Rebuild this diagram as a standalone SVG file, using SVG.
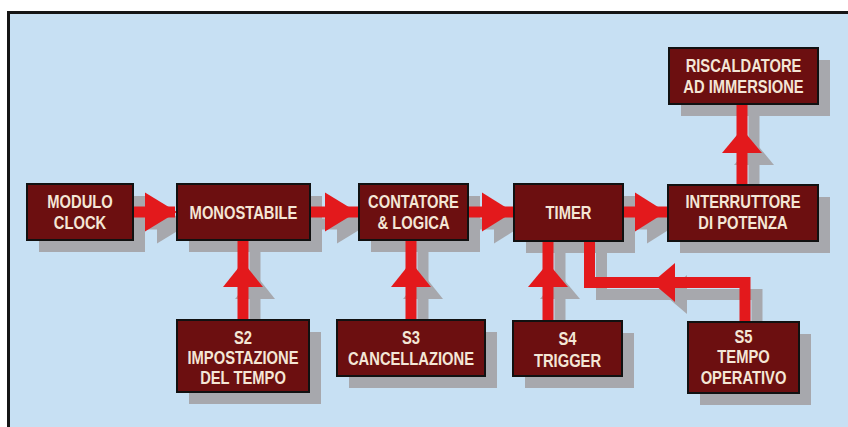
<svg xmlns="http://www.w3.org/2000/svg" width="848" height="427" viewBox="0 0 848 427">
<style>
.box{fill:#6c0f10;stroke:#111;stroke-width:2}
.sh{fill:#a7a8ad}
.shl{fill:none;stroke:#a7a8ad;stroke-width:11}
.t{font-family:"Liberation Sans",Arial,sans-serif;font-weight:bold;font-size:18px;fill:#f4e6d6;text-anchor:middle}
.w{fill:none;stroke:#e3191c;stroke-width:11}
.h{fill:#e3191c}
</style>
<rect x="0" y="0" width="848" height="427" fill="#ffffff"/>
<rect x="8.5" y="12.5" width="845" height="420" fill="#c7e0f3" stroke="#151515" stroke-width="3"/>

<g id="shadows" transform="translate(12,12)">
<rect class="sh" x="27" y="184" width="106" height="56"/>
<rect class="sh" x="177" y="184" width="133" height="56"/>
<rect class="sh" x="359" y="184" width="109" height="56"/>
<rect class="sh" x="514" y="184" width="109" height="57"/>
<rect class="sh" x="668" y="185" width="150" height="56"/>
<rect class="sh" x="669" y="48" width="149" height="56"/>
<rect class="sh" x="177" y="320" width="132" height="72"/>
<rect class="sh" x="337" y="320" width="148" height="56"/>
<rect class="sh" x="513" y="321" width="109" height="55"/>
<rect class="sh" x="688" y="322" width="111" height="71"/>
<path class="shl" d="M133 212H177M310 212H359M468 212H514M623 212H668M243 320V240M411 320V240M548 321V241M742 185V104M745 322V282.5H589.5V241"/>
<polygon class="sh" points="145,192.5 177,212 145,231.5"/>
<polygon class="sh" points="325,192.5 357,212 325,231.5"/>
<polygon class="sh" points="482,192.5 513,212 482,231.5"/>
<polygon class="sh" points="635,192.5 666,212 635,231.5"/>
<polygon class="sh" points="223,287 243,262 263,287"/>
<polygon class="sh" points="391,287 411,262 431,287"/>
<polygon class="sh" points="528,287 548,263 568,287"/>
<polygon class="sh" points="722,153 742,129 762,153"/>
<polygon class="sh" points="675,263 652,282.5 675,302"/>
</g>

<g id="connectors">
<path class="w" d="M133 212H175"/>
<polygon class="h" points="145,192.5 177,212 145,231.5"/>
<path class="w" d="M310 212H359"/>
<polygon class="h" points="325,192.5 357,212 325,231.5"/>
<path class="w" d="M468 212H514"/>
<polygon class="h" points="482,192.5 513,212 482,231.5"/>
<path class="w" d="M623 212H668"/>
<polygon class="h" points="635,192.5 666,212 635,231.5"/>
<path class="w" d="M243 320V240"/>
<polygon class="h" points="223,287 243,262 263,287"/>
<path class="w" d="M411 320V240"/>
<polygon class="h" points="391,287 411,262 431,287"/>
<path class="w" d="M548 321V241"/>
<polygon class="h" points="528,287 548,263 568,287"/>
<path class="w" d="M742 185V104"/>
<polygon class="h" points="722,153 742,129 762,153"/>
<path class="w" d="M745 322V282.5H589.5V241"/>
<polygon class="h" points="675,263 652,282.5 675,302"/>
</g>

<g id="modulo-clock">
<rect class="box" x="27" y="184" width="106" height="56"/>
<text class="t" transform="translate(80 208) scale(0.82 1)">MODULO</text>
<text class="t" transform="translate(80 229) scale(0.82 1)">CLOCK</text>
</g>
<g id="monostabile">
<rect class="box" x="177" y="184" width="133" height="56"/>
<text class="t" transform="translate(243.5 219) scale(0.82 1)">MONOSTABILE</text>
</g>
<g id="contatore-logica">
<rect class="box" x="359" y="184" width="109" height="56"/>
<text class="t" transform="translate(413.5 208) scale(0.82 1)">CONTATORE</text>
<text class="t" transform="translate(413.5 229) scale(0.82 1)">&amp; LOGICA</text>
</g>
<g id="timer">
<rect class="box" x="514" y="184" width="109" height="57"/>
<text class="t" transform="translate(568.5 219) scale(0.82 1)">TIMER</text>
</g>
<g id="interruttore">
<rect class="box" x="668" y="185" width="150" height="56"/>
<text class="t" transform="translate(743 208) scale(0.82 1)">INTERRUTTORE</text>
<text class="t" transform="translate(743 229) scale(0.82 1)">DI POTENZA</text>
</g>
<g id="riscaldatore">
<rect class="box" x="669" y="48" width="149" height="56"/>
<text class="t" transform="translate(743.5 72) scale(0.82 1)">RISCALDATORE</text>
<text class="t" transform="translate(743.5 93) scale(0.82 1)">AD IMMERSIONE</text>
</g>
<g id="s2">
<rect class="box" x="177" y="320" width="132" height="72"/>
<text class="t" transform="translate(243 344) scale(0.82 1)">S2</text>
<text class="t" transform="translate(243 364) scale(0.82 1)">IMPOSTAZIONE</text>
<text class="t" transform="translate(243 384) scale(0.82 1)">DEL TEMPO</text>
</g>
<g id="s3">
<rect class="box" x="337" y="320" width="148" height="56"/>
<text class="t" transform="translate(411 344) scale(0.82 1)">S3</text>
<text class="t" transform="translate(411 365) scale(0.82 1)">CANCELLAZIONE</text>
</g>
<g id="s4">
<rect class="box" x="513" y="321" width="109" height="55"/>
<text class="t" transform="translate(567.5 345) scale(0.82 1)">S4</text>
<text class="t" transform="translate(567.5 367) scale(0.82 1)">TRIGGER</text>
</g>
<g id="s5">
<rect class="box" x="688" y="322" width="111" height="71"/>
<text class="t" transform="translate(743.5 343) scale(0.82 1)">S5</text>
<text class="t" transform="translate(743.5 363) scale(0.82 1)">TEMPO</text>
<text class="t" transform="translate(743.5 384) scale(0.82 1)">OPERATIVO</text>
</g>
</svg>
